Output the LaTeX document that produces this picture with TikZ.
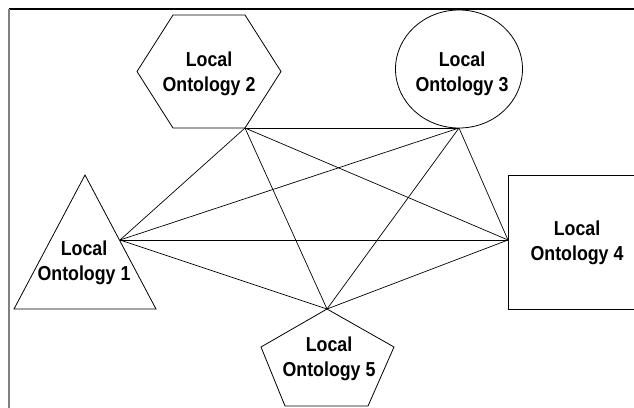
\documentclass[tikz,border=0pt]{standalone}
\usepackage{fontspec}
\setmainfont{Liberation Sans}
\newfontfamily\labelfont{Liberation Sans}[FakeStretch=0.88]
\begin{document}
\begin{tikzpicture}[x=1pt,y=-1pt,
  shapeline/.style={draw=black,line width=0.8pt,fill=white},
  link/.style={draw=black,line width=0.7pt},
  label/.style={align=center,font=\labelfont\bfseries\fontsize{20.2}{24.4}\selectfont,inner sep=0pt}]
\useasboundingbox (0,0) rectangle (634,407);
\clip (0,0) rectangle (634,407);
\fill[white] (0,0) rectangle (634,407);

% frame
\draw[black,line width=1.2pt] (9,9) -- (640,9);
\draw[gray,line width=2pt] (9,9) -- (9,410);

% attachment points of the shapes
\coordinate (p1) at (120,240);
\coordinate (p2) at (245,128);
\coordinate (p3) at (459,128);
\coordinate (p4) at (508,240);
\coordinate (p5) at (327,309);

% every ontology linked to every other one
\draw[link] (p1) -- (p2);
\draw[link] (p1) -- (p3);
\draw[link] (p1) -- (p4);
\draw[link] (p1) -- (p5);
\draw[link] (p2) -- (p3);
\draw[link] (p2) -- (p4);
\draw[link] (p2) -- (p5);
\draw[link] (p3) -- (p4);
\draw[link] (p3) -- (p5);
\draw[link] (p4) -- (p5);

% shapes
\path[shapeline] (85,175) -- (156,309) -- (14,309) -- cycle;
\path[shapeline] (173,15) -- (245,15) -- (281,71.5) -- (245,128) -- (173,128) -- (137,71.5) -- cycle;
\path[shapeline] (459,69) ellipse [x radius=63.5, y radius=59];
\path[shapeline] (508,175) rectangle (645,309);
\path[shapeline] (327,309) -- (394,347) -- (368,406) -- (285,406) -- (261,347) -- cycle;

% labels
\node[label] (lo1) at (84,263) {Local\\Ontology 1};
\node[label] (lo2) at (209,74) {Local\\Ontology 2};
\node[label] (lo3) at (462,74) {Local\\Ontology 3};
\node[label] (lo4) at (577,243) {Local\\Ontology 4};
\node[label] (lo5) at (329,359) {Local\\Ontology 5};
\end{tikzpicture}
\end{document}
